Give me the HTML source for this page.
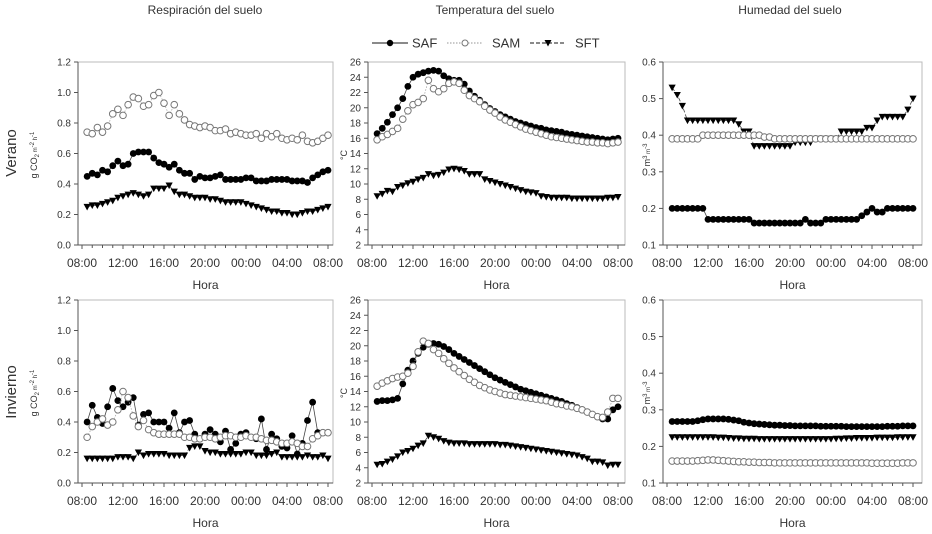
<!DOCTYPE html>
<html><head><meta charset="utf-8"><style>
body{margin:0;background:#fff;}
svg{display:block;font-family:"Liberation Sans",Arial,sans-serif;}
</style></head><body>
<svg id="chart" width="932" height="534" viewBox="0 0 932 534"></svg>
<script>
const hours = [];
for (let i = 0; i < 48; i++) hours.push(8.5 + i * 0.5);
const tickHours = [8, 12, 16, 20, 24, 28, 32];
const tickLabels = ["08:00","12:00","16:00","20:00","00:00","04:00","08:00"];

const respSumSAF = [0.45,0.47,0.46,0.49,0.48,0.52,0.55,0.52,0.53,0.60,0.61,0.61,0.61,0.57,0.54,0.53,0.51,0.53,0.49,0.47,0.47,0.43,0.45,0.44,0.44,0.45,0.46,0.43,0.43,0.43,0.43,0.44,0.44,0.42,0.42,0.42,0.43,0.43,0.43,0.43,0.42,0.42,0.42,0.41,0.44,0.46,0.48,0.49];
const respSumSAM = [0.74,0.73,0.77,0.74,0.78,0.86,0.89,0.85,0.92,0.97,0.96,0.91,0.92,0.98,1.00,0.93,0.85,0.92,0.86,0.82,0.79,0.78,0.77,0.78,0.77,0.75,0.75,0.76,0.73,0.74,0.73,0.72,0.72,0.73,0.70,0.73,0.71,0.73,0.70,0.69,0.70,0.69,0.72,0.68,0.67,0.68,0.70,0.72];
const respSumSFT = [0.25,0.26,0.26,0.27,0.28,0.29,0.31,0.32,0.33,0.34,0.33,0.32,0.33,0.37,0.37,0.37,0.39,0.35,0.33,0.33,0.32,0.31,0.31,0.31,0.30,0.30,0.29,0.28,0.28,0.28,0.28,0.27,0.26,0.25,0.24,0.23,0.22,0.22,0.21,0.21,0.20,0.20,0.21,0.22,0.22,0.23,0.24,0.25];

const tempSumSAF = [16.6,17.3,18.1,19.1,20.0,21.2,22.8,24.0,24.4,24.6,24.8,24.9,24.8,24.2,23.8,23.6,23.6,23.1,22.2,21.5,21.0,20.4,19.9,19.5,19.1,18.8,18.5,18.2,18.0,17.8,17.6,17.4,17.3,17.1,17.0,16.9,16.8,16.6,16.5,16.4,16.3,16.2,16.1,16.0,15.9,15.8,15.9,16.0];
const tempSumSAM = [15.8,16.2,16.5,16.9,17.3,18.5,19.6,20.4,20.7,21.2,23.6,22.5,22.1,22.5,23.2,23.4,23.2,22.3,21.6,21.2,20.8,20.2,19.7,19.3,18.8,18.4,18.1,17.8,17.5,17.2,17.0,16.8,16.6,16.4,16.2,16.1,16.0,15.9,15.8,15.7,15.6,15.5,15.5,15.4,15.4,15.3,15.4,15.5];
const tempSumSFT = [8.4,8.7,9.1,9.0,9.6,9.8,10.1,10.3,10.6,10.8,11.3,11.1,11.2,11.5,11.9,12.0,11.9,11.7,11.3,11.3,11.3,10.6,10.4,10.2,10.0,9.8,9.6,9.4,9.2,9.0,8.9,8.8,8.4,8.3,8.2,8.2,8.2,8.2,8.1,8.1,8.1,8.1,8.1,8.1,8.1,8.2,8.2,8.3];

const humSumSAF = [0.20,0.20,0.20,0.20,0.20,0.20,0.20,0.17,0.17,0.17,0.17,0.17,0.17,0.17,0.17,0.17,0.16,0.16,0.16,0.16,0.16,0.16,0.16,0.16,0.16,0.16,0.17,0.16,0.16,0.16,0.17,0.17,0.17,0.17,0.17,0.17,0.17,0.18,0.19,0.20,0.19,0.19,0.20,0.20,0.20,0.20,0.20,0.20];
const humSumSAM = [0.39,0.39,0.39,0.39,0.39,0.39,0.40,0.40,0.40,0.40,0.40,0.40,0.40,0.40,0.40,0.40,0.40,0.40,0.395,0.395,0.39,0.39,0.39,0.39,0.39,0.39,0.39,0.39,0.39,0.39,0.39,0.39,0.39,0.39,0.39,0.39,0.39,0.39,0.39,0.39,0.39,0.39,0.39,0.39,0.39,0.39,0.39,0.39];
const humSumSFT = [0.53,0.51,0.48,0.44,0.44,0.44,0.44,0.44,0.44,0.44,0.44,0.44,0.44,0.43,0.41,0.41,0.37,0.37,0.37,0.37,0.37,0.37,0.37,0.37,0.38,0.38,0.38,0.38,0.39,0.39,0.39,0.39,0.39,0.41,0.41,0.41,0.41,0.41,0.42,0.42,0.44,0.45,0.45,0.45,0.45,0.45,0.47,0.50];

const respWinSAF = [0.40,0.51,0.43,0.39,0.50,0.62,0.54,0.50,0.53,0.56,0.38,0.45,0.46,0.40,0.40,0.40,0.36,0.46,0.33,0.40,0.41,0.32,0.29,0.32,0.35,0.32,0.27,0.34,0.22,0.26,0.32,0.33,0.30,0.29,0.42,0.22,0.32,0.29,0.24,0.23,0.31,0.19,0.26,0.41,0.53,0.33,0.33,0.33];
const respWinSAM = [0.30,0.37,0.40,0.42,0.38,0.40,0.48,0.60,0.56,0.44,0.37,0.41,0.35,0.33,0.32,0.32,0.32,0.32,0.32,0.30,0.30,0.29,0.29,0.30,0.30,0.29,0.30,0.31,0.31,0.30,0.30,0.31,0.30,0.30,0.29,0.28,0.28,0.27,0.26,0.26,0.27,0.26,0.24,0.24,0.29,0.31,0.33,0.33];
const respWinSFT = [0.16,0.16,0.16,0.16,0.16,0.16,0.17,0.17,0.17,0.16,0.20,0.18,0.19,0.19,0.19,0.19,0.18,0.18,0.18,0.18,0.23,0.24,0.24,0.21,0.20,0.20,0.19,0.19,0.19,0.19,0.19,0.20,0.20,0.18,0.18,0.18,0.19,0.20,0.17,0.17,0.17,0.17,0.17,0.18,0.17,0.17,0.18,0.16];

const tempWinSAF = [12.7,12.8,12.8,12.9,13.1,15.0,16.8,18.0,19.0,19.8,20.2,20.3,20.2,19.9,19.5,19.0,18.6,18.2,17.8,17.4,17.0,16.6,16.2,15.8,15.5,15.2,14.9,14.6,14.3,14.1,13.9,13.7,13.5,13.3,13.1,12.9,12.7,12.4,12.2,11.9,11.6,11.3,11.0,10.7,10.4,10.4,11.6,12.0];
const tempWinSAM = [14.7,15.1,15.4,15.7,15.9,16.0,16.4,17.3,19.2,20.6,20.3,19.5,19.0,18.3,17.7,17.1,16.6,16.1,15.6,15.2,14.8,14.5,14.2,14.0,13.8,13.6,13.5,13.4,13.3,13.2,13.1,13.0,12.9,12.8,12.6,12.4,12.3,12.1,12.0,11.8,11.6,11.3,11.0,10.7,10.6,11.3,13.1,13.1];
const tempWinSFT = [4.4,4.5,4.8,5.1,5.5,6.0,6.2,6.5,6.9,7.2,8.2,8.0,7.8,7.5,7.3,7.2,7.2,7.2,7.1,7.1,7.1,7.1,7.1,7.1,7.0,7.0,6.9,6.8,6.7,6.6,6.5,6.4,6.3,6.2,6.1,6.0,5.9,5.8,5.7,5.6,5.4,5.2,4.8,4.8,4.7,4.3,4.4,4.4];

const humWinSAF = [0.268,0.268,0.268,0.268,0.268,0.270,0.273,0.275,0.275,0.275,0.275,0.274,0.272,0.270,0.266,0.264,0.262,0.261,0.260,0.259,0.258,0.258,0.257,0.257,0.256,0.256,0.256,0.256,0.256,0.255,0.255,0.255,0.255,0.255,0.254,0.254,0.254,0.254,0.254,0.254,0.254,0.254,0.255,0.255,0.255,0.256,0.256,0.256];
const humWinSAM = [0.160,0.160,0.160,0.160,0.160,0.161,0.162,0.163,0.163,0.162,0.161,0.160,0.159,0.158,0.158,0.157,0.157,0.156,0.156,0.156,0.155,0.155,0.155,0.155,0.155,0.155,0.155,0.155,0.155,0.155,0.155,0.155,0.155,0.155,0.155,0.155,0.155,0.155,0.155,0.154,0.154,0.154,0.154,0.154,0.154,0.155,0.155,0.155];
const humWinSFT = [0.225,0.225,0.225,0.225,0.225,0.225,0.225,0.225,0.225,0.224,0.224,0.223,0.222,0.222,0.221,0.221,0.221,0.220,0.220,0.220,0.220,0.220,0.220,0.220,0.220,0.220,0.220,0.220,0.220,0.220,0.220,0.220,0.221,0.221,0.222,0.222,0.223,0.223,0.223,0.223,0.224,0.224,0.224,0.224,0.225,0.225,0.225,0.225];

const respTicks = [0.0,0.2,0.4,0.6,0.8,1.0,1.2];
const tempTicks = [2,4,6,8,10,12,14,16,18,20,22,24,26];
const humTicks = [0.1,0.2,0.3,0.4,0.5,0.6];

const NS = "http://www.w3.org/2000/svg";
const svg = document.getElementById("chart");
function mk(tag, attrs, parent) {
  const e = document.createElementNS(NS, tag);
  for (const k in attrs) e.setAttribute(k, attrs[k]);
  (parent || svg).appendChild(e);
  return e;
}
function txt(s, attrs, parent) { const e = mk("text", attrs, parent); e.textContent = s; return e; }

const panels = [
  {name:"respiration-summer", left:78, right:333, top:62, bottom:245, min:0, max:1.2, ticks:respTicks, fmt:v=>v.toFixed(1), saf:respSumSAF, sam:respSumSAM, sft:respSumSFT},
  {name:"temperature-summer", left:368, right:625, top:62, bottom:245, min:2, max:26, ticks:tempTicks, fmt:v=>String(v), saf:tempSumSAF, sam:tempSumSAM, sft:tempSumSFT},
  {name:"moisture-summer", left:663, right:922, top:62, bottom:245, min:0.1, max:0.6, ticks:humTicks, fmt:v=>v.toFixed(1), saf:humSumSAF, sam:humSumSAM, sft:humSumSFT},
  {name:"respiration-winter", left:78, right:333, top:300, bottom:483, min:0, max:1.2, ticks:respTicks, fmt:v=>v.toFixed(1), saf:respWinSAF, sam:respWinSAM, sft:respWinSFT},
  {name:"temperature-winter", left:368, right:625, top:300, bottom:483, min:2, max:26, ticks:tempTicks, fmt:v=>String(v), saf:tempWinSAF, sam:tempWinSAM, sft:tempWinSFT},
  {name:"moisture-winter", left:663, right:922, top:300, bottom:483, min:0.1, max:0.6, ticks:humTicks, fmt:v=>v.toFixed(1), saf:humWinSAF, sam:humWinSAM, sft:humWinSFT}
];

panels.forEach(p => {
  const g = mk("g", {});
  
  
  const xs = h => p.left + 4 + (h - 8) * 10.25;
  const ys = v => p.bottom - (v - p.min) / (p.max - p.min) * (p.bottom - p.top);
  const fr = mk("rect", {x:p.left, y:p.top, width:p.right-p.left, height:p.bottom-p.top, fill:"none", stroke:"#bbb", "stroke-width":1}, g);
  
  
  mk("line", {x1:p.left, y1:p.top, x2:p.left, y2:p.bottom, stroke:"#555", "stroke-width":1}, g);
  mk("line", {x1:p.left, y1:p.bottom, x2:p.right, y2:p.bottom, stroke:"#555", "stroke-width":1}, g);
  p.ticks.forEach(v => {
    const y = ys(v);
    mk("line", {x1:p.left-4, y1:y, x2:p.left, y2:y, stroke:"#555"}, g);
    const t = txt(p.fmt(v), {x:p.left-7, y:y+3.5, "font-size":10, fill:"#333", "text-anchor":"end"}, g);
    
    
  });
  for (let h = 8; h <= 32; h++) {
    const x = xs(h);
    mk("line", {x1:x, y1:p.bottom, x2:x, y2:p.bottom+(h%4===0?4:3), stroke:"#555"}, g);
  }
  tickHours.forEach((h, i) => {
    const t = txt(tickLabels[i], {x:xs(h), y:p.bottom+22, "font-size":12, fill:"#333", "text-anchor":"middle"}, g);
    
    
  });
  const ht = txt("Hora", {x:(p.left+p.right)/2, y:p.bottom+44, "font-size":12, fill:"#333", "text-anchor":"middle"}, g);
  
  
  const series = [
    {key:"sft", vals:p.sft, line:"#444", dash:"4,2"},
    {key:"saf", vals:p.saf, line:"#444", dash:""},
    {key:"sam", vals:p.sam, line:"#aaa", dash:"1.5,1.5"}
  ];
  series.forEach(s => {
    const pts = s.vals.map((v, i) => xs(hours[i]).toFixed(1) + "," + ys(v).toFixed(1)).join(" ");
    const pl = mk("polyline", {points:pts, fill:"none", stroke:s.line, "stroke-width":0.8, "stroke-dasharray":s.dash}, g);
    
    
    s.vals.forEach((v, i) => {
      const x = xs(hours[i]), y = ys(v);
      let m;
      if (s.key === "saf") m = mk("circle", {cx:x, cy:y, r:3.4, fill:"#000"}, g);
      else if (s.key === "sam") m = mk("circle", {cx:x, cy:y, r:3.3, fill:"#fff", stroke:"#777", "stroke-width":1}, g);
      else m = mk("polygon", {points:(x-3.6)+","+(y-3)+" "+(x+3.6)+","+(y-3)+" "+x+","+(y+3.6), fill:"#000"}, g);
      
      
    });
  });
});

[["Respiración del suelo",205],["Temperatura del suelo",495],["Humedad del suelo",790]].forEach(a => {
  const t = txt(a[0], {x:a[1], y:14, "font-size":12, fill:"#333", "text-anchor":"middle"});
  
  
});
[["Verano",153],["Invierno",392]].forEach(a => {
  const t = txt(a[0], {x:0, y:0, "font-size":15, fill:"#333", "text-anchor":"middle", transform:"translate(16,"+a[1]+") rotate(-90)"});
  
  
});
function ytitle(parts, x, y) {
  const t = mk("text", {x:0, y:0, "font-size":9, fill:"#333", "text-anchor":"middle", transform:"translate("+x+","+y+") rotate(-90)"});
  
  
  parts.forEach(p => {
    const ts = mk("tspan", p[1] ? {"font-size":6, dy:p[1]} : {}, t);
    ts.textContent = p[0];
  });
}
ytitle([["g CO",0],["2","2"],[" m",-2],["-2","-3"],[" h",3],["-1","-3"]], 37, 155);
ytitle([["g CO",0],["2","2"],[" m",-2],["-2","-3"],[" h",3],["-1","-3"]], 37, 393);
ytitle([["°C",0]], 347, 155);
ytitle([["°C",0]], 347, 393);
ytitle([["m",0],["3","-3"],[" m",3],["-3","-3"]], 650, 155);
ytitle([["m",0],["3","-3"],[" m",3],["-3","-3"]], 650, 393);

const lg = mk("g", {});


[["SAF",372,412,""],["SAM",447,492,"1.5,1.5"],["SFT",530,575,"4,2"]].forEach((a, k) => {
  const e = mk("g", {}, lg);
  
  
  const y = 43, cx = a[1] + 18;
  mk("line", {x1:a[1], y1:y, x2:a[1]+36, y2:y, stroke:k===1?"#aaa":"#444", "stroke-width":1.2, "stroke-dasharray":a[3]}, e);
  if (k === 0) mk("circle", {cx:cx, cy:y, r:3.2, fill:"#000"}, e);
  else if (k === 1) mk("circle", {cx:cx, cy:y, r:3, fill:"#fff", stroke:"#777"}, e);
  else mk("polygon", {points:(cx-3.5)+","+(y-3)+" "+(cx+3.5)+","+(y-3)+" "+cx+","+(y+3.5), fill:"#000"}, e);
  txt(a[0], {x:a[2], y:y+4.5, "font-size":13, fill:"#333"}, e);
});
</script>
</body></html>
